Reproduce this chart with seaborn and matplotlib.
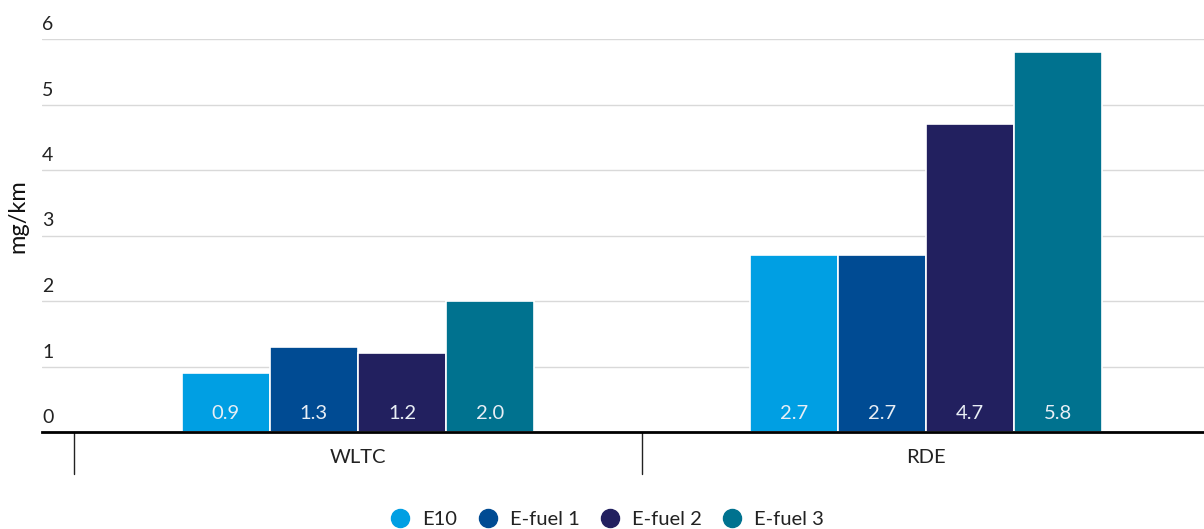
import matplotlib
matplotlib.use("Agg")
from matplotlib import pyplot as plt
from matplotlib.lines import Line2D
import matplotlib.transforms as mtransforms
import seaborn as sns
import pandas as pd

# Daten
cycles = ["WLTC", "RDE"]
fuels = ["E10", "E-fuel 1", "E-fuel 2", "E-fuel 3"]
e10 = [0.9, 2.7]
efuel1 = [1.3, 2.7]
efuel2 = [1.2, 4.7]
efuel3 = [2.0, 5.8]
colors = ["#009fe3", "#004b93", "#22205f", "#00728f"]

rows = []
for fuel, vals in zip(fuels, [e10, efuel1, efuel2, efuel3]):
    for cyc, v in zip(cycles, vals):
        rows.append({"cycle": cyc, "fuel": fuel, "value": v})
df = pd.DataFrame(rows)

sns.set_theme(style="white")
plt.rcParams["font.family"] = ["Lato", "DejaVu Sans"]

fig = plt.figure(figsize=(12.04, 5.29), dpi=100)
ax = fig.add_axes([42 / 1204, 1 - 432 / 529, 1 - 42 / 1204, (432 - 39) / 529])

sns.barplot(data=df, x="cycle", y="value", hue="fuel", hue_order=fuels,
            palette=colors, saturation=1, width=0.62, edgecolor="white",
            linewidth=1.2, legend=False, ax=ax, zorder=3)

ax.set_xlim(-0.556, 1.489)
ax.set_ylim(0, 6)

# Gitterlinien + Beschriftungen (links, über der Linie)
ax.set_yticks(range(0, 7))
ax.yaxis.grid(True, color="#d9d9d9", linewidth=1)
ax.set_axisbelow(True)
ax.tick_params(axis="y", length=0, pad=0, labelsize=14, labelcolor="#222222")
ytrans = ax.get_yaxis_transform() + mtransforms.ScaledTranslation(0, 0.06, fig.dpi_scale_trans)
for lab in ax.get_yticklabels():
    lab.set_horizontalalignment("left")
    lab.set_verticalalignment("bottom")
    lab.set_transform(ytrans)

ax.set_ylabel("mg/km", fontsize=17, color="#111111")
ax.yaxis.set_label_coords(-0.012, 0.55)

ax.set_xlabel("")
ax.tick_params(axis="x", length=0, pad=12, labelsize=14.5, labelcolor="#222222")

for side in ["top", "right", "left"]:
    ax.spines[side].set_visible(False)
ax.spines["bottom"].set_color("#000000")
ax.spines["bottom"].set_linewidth(2)
ax.spines["bottom"].set_zorder(5)

# Trennlinien der Kategorien
trans = ax.get_xaxis_transform()
for xs in [-0.5, 0.5]:
    ax.add_line(Line2D([xs, xs], [0, -42 / 393], transform=trans, color="#222222",
                       linewidth=1, clip_on=False))

# Werte unten in den Balken
for cont in ax.containers:
    for b in cont:
        ax.annotate(f"{b.get_height():.1f}", (b.get_x() + b.get_width() / 2, 0),
                    xytext=(0, 7), textcoords="offset points", ha="center", va="bottom",
                    color="#e8eef5", fontsize=14.5, zorder=6)

handles = [Line2D([], [], marker="o", linestyle="", markersize=13, color=c) for c in colors]
fig.legend(handles, fuels, loc="center", bbox_to_anchor=(0.5, 1 - 519 / 529), ncol=4,
           frameon=False, fontsize=14.5, handletextpad=0.1, columnspacing=0.5,
           labelcolor="#222222")

plt.savefig("out.png", dpi=100)
plt.close()
